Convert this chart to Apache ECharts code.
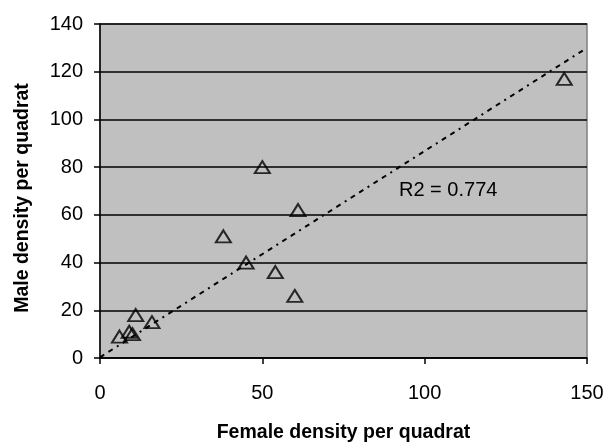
<!DOCTYPE html>
<html>
<head>
<meta charset="utf-8">
<script src="https://cdn.jsdelivr.net/npm/echarts@6/dist/echarts.min.js"></script>
<style>
  html, body { margin: 0; padding: 0; background: #fff; }
  #chart { width: 609px; height: 448px; }
</style>
</head>
<body>
<div id="chart"></div>
<script>
// female / male density per quadrat
const femaleDensity = [6, 9, 10, 11, 16, 38, 45, 50, 54, 60, 61, 143];
const maleDensity = [9, 11, 10, 18, 15, 51, 40, 80, 36, 26, 62, 117];

// fitted trend line end points
const trendX = [0, 150];
const trendY = [0.3, 130];

const xTicks = [0, 50, 100, 150];
const yTicks = [0, 20, 40, 60, 80, 100, 120, 140];
const r2Label = "R2 = 0.774";
const xTitle = "Female density per quadrat";
const yTitle = "Male density per quadrat";

const points = femaleDensity.map((f, i) => [f, maleDensity[i]]);
const trend = trendX.map((x, i) => [x, trendY[i]]);

const font = "'Liberation Sans', Arial, sans-serif";

const chart = echarts.init(document.getElementById("chart"));
chart.setOption({
  animation: false,
  textStyle: { fontFamily: font },
  grid: {
    left: 100,
    right: 22,
    top: 24,
    bottom: 90,
    show: true,
    backgroundColor: "#c0c0c0",
    borderColor: "#808080",
    borderWidth: 1.5,
  },
  xAxis: {
    type: "value",
    min: xTicks[0],
    max: xTicks[xTicks.length - 1],
    interval: 50,
    name: xTitle,
    nameLocation: "middle",
    nameGap: 65,
    nameTextStyle: { fontFamily: font, fontWeight: "bold", fontSize: 19.5, color: "#000" },
    axisLine: { lineStyle: { color: "#000", width: 1.5 } },
    axisTick: { show: true, length: 6, lineStyle: { color: "#000", width: 1.5 } },
    axisLabel: { color: "#000", fontSize: 20, margin: 25, fontFamily: font },
    splitLine: { show: false },
  },
  yAxis: {
    type: "value",
    min: yTicks[0],
    max: yTicks[yTicks.length - 1],
    interval: 20,
    axisLine: { lineStyle: { color: "#000", width: 1.5 } },
    axisTick: { show: true, length: 6, lineStyle: { color: "#000", width: 1.5 } },
    axisLabel: { color: "#000", fontSize: 20, margin: 17, fontFamily: font },
    splitLine: { show: true, lineStyle: { color: "#000", width: 1.5 } },
  },
  series: [
    {
      type: "line",
      data: trend,
      symbol: "none",
      silent: true,
      lineStyle: { color: "#000", width: 2, type: [5, 5, 5, 5, 2, 5] },
      z: 2,
    },
    {
      type: "scatter",
      data: points,
      symbol: "triangle",
      symbolSize: [15, 12],
      itemStyle: { color: "rgba(0,0,0,0)", borderColor: "#000", borderWidth: 2 },
      z: 3,
    },
  ],
  graphic: [
    {
      type: "text",
      left: 399,
      top: 180,
      style: { text: r2Label, font: "20px " + font, fill: "#000" },
    },
    {
      type: "text",
      x: 23,
      y: 198,
      rotation: Math.PI / 2,
      style: {
        text: yTitle,
        font: "bold 19.5px " + font,
        fill: "#000",
        align: "center",
        verticalAlign: "middle",
      },
    },
  ],
});
</script>
</body>
</html>
